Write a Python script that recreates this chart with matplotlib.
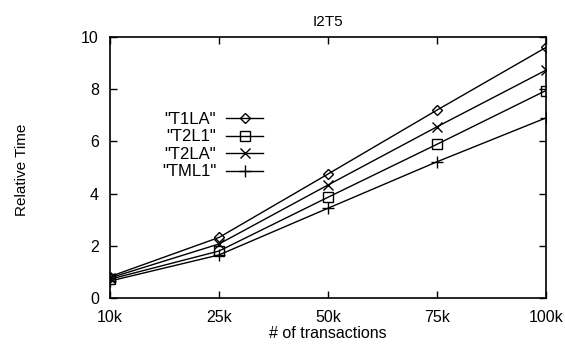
import matplotlib

matplotlib.use("Agg")
import matplotlib.pyplot as plt

plt.rcParams["font.family"] = ["Liberation Sans", "DejaVu Sans"]

x_labels = ["10k", "25k", "50k", "75k", "100k"]
t1la = [0.82, 2.32, 4.75, 7.2, 9.6]
t2l1 = [0.72, 1.8, 3.86, 5.89, 7.95]
t2la = [0.77, 2.07, 4.33, 6.56, 8.73]
tml1 = [0.65, 1.65, 3.44, 5.22, 6.9]

series = [
    ('"T1LA"', t1la, dict(marker="D", markersize=5, markerfacecolor="none")),
    ('"T2L1"', t2l1, dict(marker="s", markersize=7, markerfacecolor="none")),
    ('"T2LA"', t2la, dict(marker="x", markersize=7)),
    ('"TML1"', tml1, dict(marker="+", markersize=8)),
]

fig = plt.figure(figsize=(5.65, 3.45), dpi=100)
ax = fig.add_axes([110 / 565, 1 - 298 / 345, 436 / 565, 261 / 345])

xs = range(len(x_labels))
for name, ys, style in series:
    ax.plot(xs, ys, color="black", linewidth=1.0, markeredgewidth=1.0,
            label=name, **style)

ax.set_xlim(0, len(x_labels) - 1)
ax.set_ylim(0, 10)
ax.set_xticks(list(xs))
ax.set_xticklabels(x_labels)
ax.set_yticks(range(0, 11, 2))
ax.tick_params(direction="in", top=True, right=True, length=5, width=1,
               labelsize=11.5)
ax.tick_params(axis="x", pad=9)
ax.tick_params(axis="y", pad=8)
for sp in ax.spines.values():
    sp.set_linewidth(1.2)

ax.set_title("I2T5", fontsize=11, pad=8)
ax.set_xlabel("# of transactions", fontsize=11.5, labelpad=0)
fig.text(22 / 565, 1 - 170 / 345, "Relative Time", rotation=90,
         ha="center", va="center", fontsize=11)

ax.legend(loc="upper left", bbox_to_anchor=(0.1, 0.745), frameon=False,
          markerfirst=False, fontsize=12, handlelength=2.2,
          labelspacing=0.15, handletextpad=0.6, borderpad=0)

fig.savefig("out.png", dpi=100)
